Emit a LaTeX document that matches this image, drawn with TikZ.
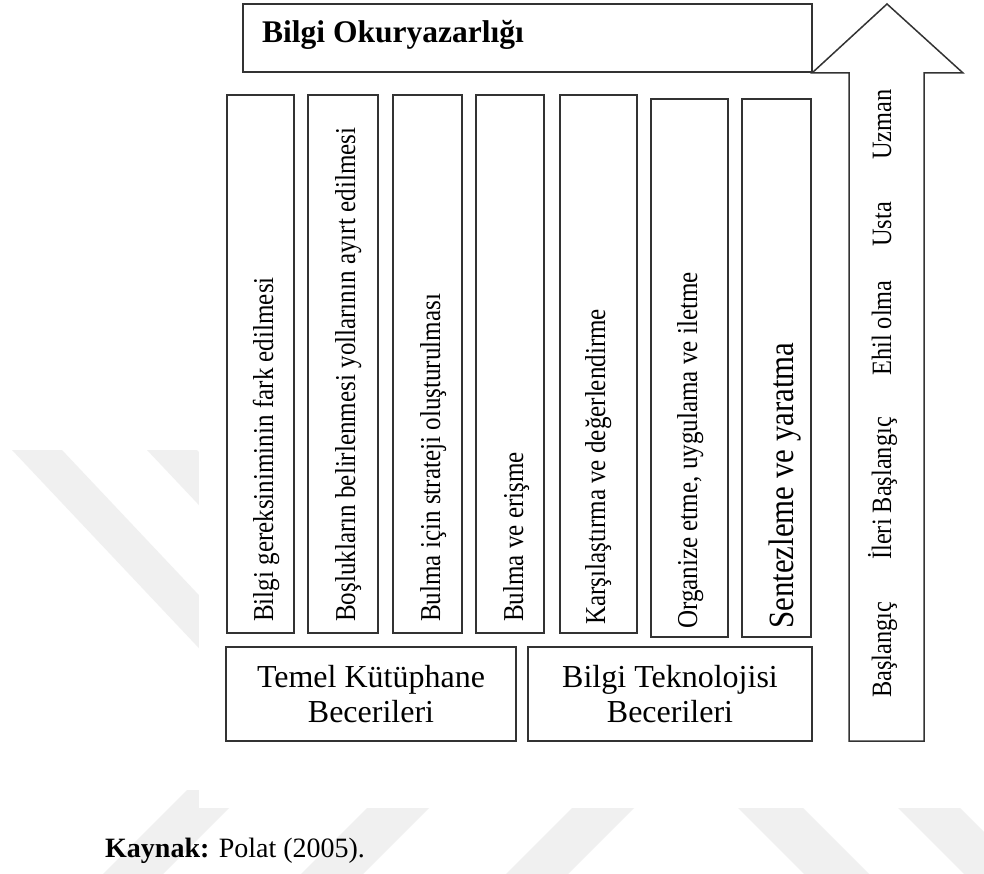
\documentclass[tikz,border=0pt]{standalone}
\usepackage{fontspec}
\setmainfont{Liberation Serif}
\newfontfamily\condfont[FakeStretch=0.87]{Liberation Serif}
\begin{document}
\begin{tikzpicture}[x=1pt,y=-1pt,
  box/.style={draw=black!80, line width=1.5pt, inner sep=0pt},
  coltext/.style={rotate=90, anchor=base west, inner sep=0pt, font=\condfont\fontsize{28.8}{30}\selectfont},
  bigcol/.style={rotate=90, anchor=base west, inner sep=0pt, font=\condfont\fontsize{35.5}{37}\selectfont},
  lvl/.style={rotate=90, anchor=base west, inner sep=0pt, font=\condfont\fontsize{28}{30}\selectfont},
  basetext/.style={anchor=base, inner sep=0pt, font=\fontsize{32}{35}\selectfont},
  wm/.style={fill=black!6, draw=none}]
\useasboundingbox (0,0) rectangle (984,874);
\fill[white] (0,0) rectangle (984,874);
% watermark bands
\fill[wm] (12,450) -- (62,450) -- (262,662) -- (212,662) -- cycle;
\fill[wm] (147,450) -- (197,450) -- (397,662) -- (347,662) -- cycle;
\fill[wm] (187,790) -- (247,790) -- (163,874) -- (103,874) -- cycle;
\fill[wm] (385,790) -- (447,790) -- (363,874) -- (301,874) -- cycle;
\fill[wm] (590,790) -- (652,790) -- (568,874) -- (506,874) -- cycle;
\fill[wm] (720,790) -- (785,790) -- (869,874) -- (804,874) -- cycle;
\fill[wm] (880,790) -- (942,790) -- (1026,874) -- (964,874) -- cycle;
\fill[white] (199,0) rectangle (984,808);
% top box
\node[box, minimum width=569pt, minimum height=68pt] (top) at (527.5,38) {};
\node[anchor=base west, inner sep=0pt, font=\bfseries\fontsize{31.5}{34}\selectfont] (toptext) at (262,43) {Bilgi Okuryazarlığı};
% columns
\node[box, minimum width=67pt, minimum height=538pt] (c1) at (260.5,364) {};
\node[box, minimum width=70pt, minimum height=538pt] (c2) at (343,364) {};
\node[box, minimum width=69pt, minimum height=538pt] (c3) at (427.5,364) {};
\node[box, minimum width=68pt, minimum height=538pt] (c4) at (510,364) {};
\node[box, minimum width=77pt, minimum height=538pt] (c5) at (598.5,364) {};
\node[box, minimum width=77pt, minimum height=538pt] (c6) at (689.5,368) {};
\node[box, minimum width=69pt, minimum height=538pt] (c7) at (776.5,368) {};
\node[coltext] (t1) at (273,622) {Bilgi gereksiniminin fark edilmesi};
\node[coltext] (t2) at (355,622) {Boşlukların belirlenmesi yollarının ayırt edilmesi};
\node[coltext] (t3) at (440,622) {Bulma için strateji oluşturulması};
\node[coltext] (t4) at (523,622) {Bulma ve erişme};
\node[coltext] (t5) at (605,625) {Karşılaştırma ve değerlendirme};
\node[coltext] (t6) at (697,629) {Organize etme, uygulama ve iletme};
\node[bigcol] (t7) at (793,629) {Sentezleme ve yaratma};
% bottom boxes
\node[box, minimum width=290pt, minimum height=94pt] (tkb) at (371,694) {};
\node[box, minimum width=284pt, minimum height=94pt] (btb) at (670,694) {};
\node[basetext] (tkb1) at (371,687) {Temel Kütüphane};
\node[basetext] (tkb2) at (371,722) {Becerileri};
\node[basetext] (btb1) at (670,687) {Bilgi Teknolojisi};
\node[basetext] (btb2) at (670,722) {Becerileri};
% arrow
\draw[draw=black!80, line width=1.5pt, line join=miter]
  (849,741) -- (849,73) -- (812,73) -- (887,4) -- (963,73) -- (924,73) -- (924,741) -- cycle;
\node[lvl] (l1) at (891,698) {Başlangıç};
\node[lvl] (l2) at (891,560) {İleri Başlangıç};
\node[lvl] (l3) at (891,376) {Ehil olma};
\node[lvl] (l4) at (891,247) {Usta};
\node[lvl] (l5) at (891,160) {Uzman};
% source
\node[anchor=base west, inner sep=0pt, font=\fontsize{28}{30}\selectfont] (src) at (105,857) {\textbf{Kaynak:} Polat (2005).};
\end{tikzpicture}
\end{document}
